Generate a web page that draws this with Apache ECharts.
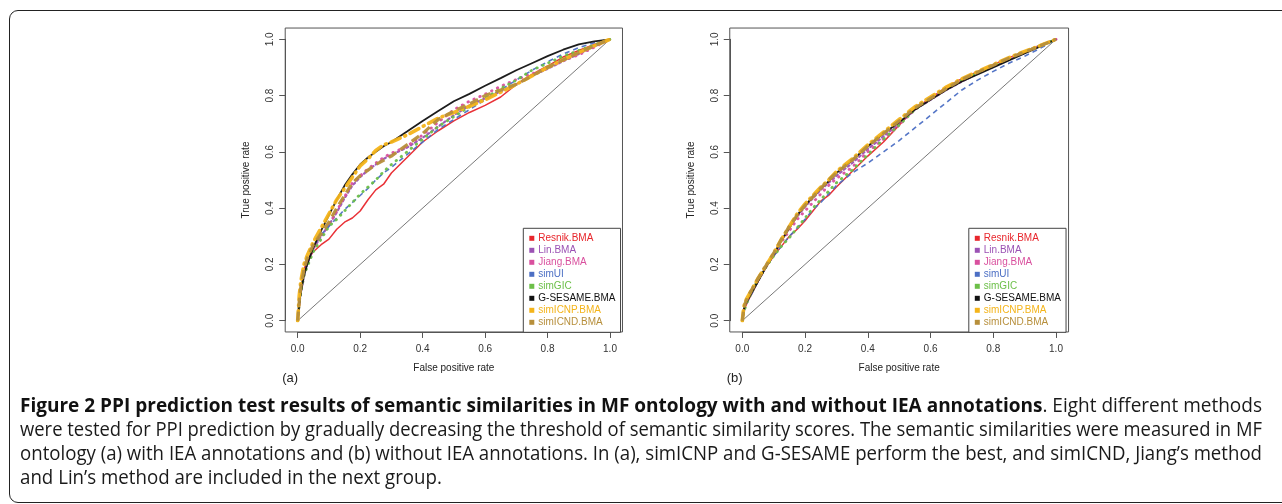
<!DOCTYPE html>
<html>
<head>
<meta charset="utf-8">
<script src="https://cdn.jsdelivr.net/npm/echarts@6/dist/echarts.min.js"></script>
<style>
  html, body { margin: 0; padding: 0; background: #fff; }
  #wrap { position: relative; width: 1282px; height: 504px; overflow: hidden; background: #fff; }
  #frame { position: absolute; left: 9px; top: 10px; width: 1300px; height: 493px; border: 1.5px solid #222; border-radius: 9px; box-sizing: border-box; }
  #chart { position: absolute; left: 0; top: 0; width: 1282px; height: 504px; }
  .cap { position: absolute; left: 20px; white-space: nowrap; font-family: 'Open Sans', 'Noto Sans', sans-serif; font-size: 20px; color: #1a1a1a; transform-origin: 0 50%; line-height: 24px; }
  .cap b { color: #111; }
</style>
</head>
<body>
<div id="wrap">
  <div id="frame"></div>
  <div id="chart"></div>
  <div class="cap" style="top:393px" data-fit="1"><b>Figure 2 PPI prediction test results of semantic similarities in MF ontology with and without IEA annotations</b>. Eight different methods</div>
  <div class="cap" style="top:417px" data-fit="1">were tested for PPI prediction by gradually decreasing the threshold of semantic similarity scores. The semantic similarities were measured in MF</div>
  <div class="cap" style="top:441px" data-fit="1">ontology (a) with IEA annotations and (b) without IEA annotations. In (a), simICNP and G-SESAME perform the best, and simICND, Jiang’s method</div>
  <div class="cap" style="top:465px" data-fit="0">and Lin’s method are included in the next group.</div>
</div>
<script>
// ---------------- data ----------------
const methodNames = ['Resnik.BMA', 'Lin.BMA', 'Jiang.BMA', 'simUI', 'simGIC', 'G-SESAME.BMA', 'simICNP.BMA', 'simICND.BMA'];
const diagonal = [0, 1];
const fpr = [0, 0.005, 0.01, 0.02, 0.03, 0.05, 0.075, 0.1, 0.125, 0.15, 0.175, 0.2, 0.225, 0.25, 0.275, 0.3, 0.35, 0.4, 0.45, 0.5, 0.55, 0.6, 0.65, 0.7, 0.75, 0.8, 0.85, 0.9, 0.95, 1.0];

// panel (a): with IEA annotations
const a_resnik  = [0, 0.05, 0.11, 0.18, 0.215, 0.245, 0.27, 0.29, 0.325, 0.35, 0.365, 0.39, 0.43, 0.465, 0.485, 0.525, 0.58, 0.635, 0.675, 0.71, 0.74, 0.765, 0.795, 0.84, 0.875, 0.905, 0.937, 0.96, 0.982, 1];
const a_lin     = [0, 0.06, 0.10, 0.16, 0.20, 0.255, 0.30, 0.34, 0.385, 0.435, 0.48, 0.51, 0.535, 0.555, 0.575, 0.59, 0.615, 0.65, 0.69, 0.73, 0.765, 0.79, 0.815, 0.84, 0.87, 0.895, 0.922, 0.948, 0.975, 1];
const a_jiang   = [0, 0.06, 0.10, 0.16, 0.20, 0.255, 0.30, 0.34, 0.39, 0.44, 0.49, 0.515, 0.54, 0.56, 0.58, 0.595, 0.62, 0.66, 0.705, 0.75, 0.78, 0.805, 0.833, 0.857, 0.877, 0.90, 0.924, 0.945, 0.972, 1];
const a_simui   = [0, 0.06, 0.10, 0.16, 0.20, 0.265, 0.305, 0.335, 0.365, 0.395, 0.42, 0.445, 0.47, 0.50, 0.525, 0.545, 0.59, 0.635, 0.68, 0.715, 0.75, 0.785, 0.82, 0.855, 0.89, 0.92, 0.948, 0.97, 0.988, 1];
const a_simgic  = [0, 0.06, 0.10, 0.16, 0.19, 0.245, 0.29, 0.335, 0.36, 0.39, 0.42, 0.45, 0.475, 0.50, 0.53, 0.555, 0.60, 0.645, 0.69, 0.725, 0.76, 0.79, 0.825, 0.855, 0.89, 0.915, 0.94, 0.96, 0.98, 1];
const a_gsesame = [0, 0.06, 0.10, 0.16, 0.20, 0.26, 0.32, 0.375, 0.43, 0.48, 0.52, 0.555, 0.58, 0.60, 0.62, 0.635, 0.672, 0.71, 0.745, 0.78, 0.806, 0.835, 0.862, 0.89, 0.915, 0.94, 0.963, 0.982, 0.993, 1];
const a_simicnp = [0, 0.09, 0.14, 0.20, 0.23, 0.28, 0.33, 0.38, 0.43, 0.47, 0.51, 0.55, 0.575, 0.605, 0.625, 0.635, 0.66, 0.69, 0.72, 0.74, 0.762, 0.785, 0.812, 0.84, 0.87, 0.90, 0.927, 0.953, 0.977, 1];
const a_simicnd = [0, 0.07, 0.12, 0.18, 0.22, 0.27, 0.31, 0.35, 0.40, 0.445, 0.49, 0.515, 0.535, 0.555, 0.57, 0.585, 0.625, 0.665, 0.715, 0.745, 0.77, 0.80, 0.82, 0.84, 0.87, 0.90, 0.927, 0.953, 0.977, 1];

// panel (b): without IEA annotations
const b_resnik  = [0, 0.03, 0.05, 0.075, 0.095, 0.14, 0.19, 0.23, 0.265, 0.30, 0.325, 0.355, 0.39, 0.425, 0.445, 0.475, 0.53, 0.585, 0.635, 0.695, 0.755, 0.79, 0.83, 0.86, 0.885, 0.91, 0.935, 0.955, 0.978, 1];
const b_lin     = [0, 0.04, 0.06, 0.08, 0.10, 0.14, 0.19, 0.235, 0.285, 0.33, 0.37, 0.405, 0.435, 0.465, 0.49, 0.515, 0.56, 0.61, 0.655, 0.70, 0.75, 0.785, 0.82, 0.85, 0.878, 0.902, 0.928, 0.952, 0.976, 1];
const b_jiang   = [0, 0.035, 0.055, 0.08, 0.10, 0.145, 0.19, 0.235, 0.28, 0.32, 0.36, 0.39, 0.42, 0.45, 0.48, 0.505, 0.545, 0.60, 0.645, 0.695, 0.75, 0.79, 0.825, 0.855, 0.88, 0.905, 0.93, 0.955, 0.978, 1];
const b_simui   = [0, 0.03, 0.05, 0.075, 0.095, 0.14, 0.19, 0.23, 0.265, 0.30, 0.33, 0.36, 0.395, 0.42, 0.45, 0.48, 0.525, 0.56, 0.60, 0.64, 0.685, 0.73, 0.775, 0.82, 0.855, 0.886, 0.915, 0.94, 0.968, 1];
const b_simgic  = [0, 0.03, 0.05, 0.08, 0.10, 0.145, 0.19, 0.23, 0.265, 0.295, 0.33, 0.365, 0.40, 0.43, 0.46, 0.49, 0.535, 0.59, 0.645, 0.695, 0.75, 0.79, 0.825, 0.855, 0.88, 0.905, 0.93, 0.955, 0.978, 1];
const b_gsesame = [0, 0.04, 0.06, 0.08, 0.10, 0.14, 0.19, 0.235, 0.285, 0.33, 0.375, 0.41, 0.44, 0.47, 0.495, 0.525, 0.57, 0.62, 0.665, 0.705, 0.75, 0.785, 0.82, 0.85, 0.875, 0.90, 0.925, 0.95, 0.975, 1];
const b_simicnp = [0, 0.05, 0.07, 0.09, 0.11, 0.15, 0.195, 0.24, 0.29, 0.335, 0.38, 0.415, 0.445, 0.475, 0.50, 0.53, 0.575, 0.625, 0.67, 0.715, 0.76, 0.795, 0.83, 0.86, 0.885, 0.91, 0.935, 0.957, 0.978, 1];
const b_simicnd = [0, 0.045, 0.065, 0.09, 0.11, 0.15, 0.195, 0.24, 0.29, 0.335, 0.375, 0.41, 0.44, 0.47, 0.50, 0.525, 0.57, 0.62, 0.665, 0.71, 0.755, 0.79, 0.825, 0.857, 0.883, 0.908, 0.933, 0.955, 0.977, 1];

const panelA = [a_resnik, a_lin, a_jiang, a_simui, a_simgic, a_gsesame, a_simicnp, a_simicnd];
const panelB = [b_resnik, b_lin, b_jiang, b_simui, b_simgic, b_gsesame, b_simicnp, b_simicnd];
const panelLabels = ['(a)', '(b)'];
const xTitle = 'False positive rate';
const yTitle = 'True positive rate';

// ---------------- styles ----------------
const colors = ['#e8262c', '#9b52b4', '#d9509e', '#4c6fc4', '#6cbf48', '#111111', '#f4b41a', '#b78f3b'];
const lineStyles = [
  { width: 1.5, type: 'solid' },
  { width: 2.2, type: [2, 3], cap: 'round' },
  { width: 2.8, type: [0.5, 6], cap: 'round' },
  { width: 1.6, type: [5, 4] },
  { width: 2.8, type: [0.5, 6], cap: 'round' },
  { width: 1.8, type: 'solid' },
  { width: 3.6, type: [10, 5, 1, 5], cap: 'round' },
  { width: 3.2, type: [9, 5] }
];
const FONT = "'Liberation Sans', Arial, sans-serif";

const grids = [
  { left: 297.7, top: 39.3, width: 312.3, height: 281.4 },
  { left: 742.3, top: 39.3, width: 313.7, height: 281.4 }
];
const legendPos = [{ left: 523.3, top: 228.3 }, { left: 968.8, top: 228.3 }];
const ext = 0.04;

const chart = echarts.init(document.getElementById('chart'), null, { renderer: 'canvas' });

const xAxes = [], yAxes = [], series = [], legends = [], graphics = [];
grids.forEach((g, p) => {
  const dx = g.width * ext, dy = g.height * ext;
  xAxes.push({
    type: 'value', gridIndex: p, min: 0, max: 1, interval: 0.2, offset: dy,
    name: xTitle, nameLocation: 'middle', nameGap: 31,
    nameTextStyle: { fontFamily: FONT, fontSize: 10, color: '#222' },
    axisLine: { show: true, onZero: false, lineStyle: { color: '#555', width: 1 } },
    axisTick: { show: true, length: 6, lineStyle: { color: '#555' } },
    axisLabel: { fontFamily: FONT, fontSize: 10, color: '#333', margin: 12, formatter: v => v.toFixed(1) },
    splitLine: { show: false }
  });
  yAxes.push({
    type: 'value', gridIndex: p, min: 0, max: 1, interval: 0.2, offset: dx,
    name: yTitle, nameLocation: 'middle', nameGap: 34,
    nameTextStyle: { fontFamily: FONT, fontSize: 10, color: '#222' },
    axisLine: { show: true, onZero: false, lineStyle: { color: '#555', width: 1 } },
    axisTick: { show: true, length: 6, lineStyle: { color: '#555' } },
    axisLabel: { fontFamily: FONT, fontSize: 10, color: '#333', margin: 10, rotate: 90, formatter: v => v.toFixed(1) },
    splitLine: { show: false }
  });
  // diagonal reference line
  series.push({
    type: 'line', name: 'diag' + p, xAxisIndex: p, yAxisIndex: p, silent: true,
    data: diagonal.map(v => [v, v]), showSymbol: false, symbol: 'none',
    lineStyle: { color: '#555', width: 0.8 }, z: 1
  });
  const tprs = p === 0 ? panelA : panelB;
  methodNames.forEach((name, i) => {
    series.push({
      type: 'line', name, xAxisIndex: p, yAxisIndex: p,
      data: fpr.map((x, k) => [x, tprs[i][k]]),
      showSymbol: false, symbol: 'none', smooth: false,
      color: colors[i], itemStyle: { color: colors[i] },
      lineStyle: Object.assign({ color: colors[i], opacity: 0.95 }, lineStyles[i]),
      z: 2 + i
    });
  });
  legends.push({
    orient: 'vertical', left: legendPos[p].left, top: legendPos[p].top,
    icon: 'rect', itemWidth: 5, itemHeight: 5, itemGap: 0,
    padding: [4, 5, 4, 6], borderColor: '#444', borderWidth: 1, backgroundColor: '#fff',
    selectedMode: false,
    itemStyle: { borderWidth: 0 },
    textStyle: { fontFamily: FONT, fontSize: 10, lineHeight: 12, padding: [0, 0, 0, -1] },
    data: methodNames.map((n, i) => ({ name: n, textStyle: { color: colors[i] } }))
  });
  graphics.push({
    type: 'rect', silent: true, z: 0,
    shape: { x: g.left - dx, y: g.top - dy, width: g.width + 2 * dx, height: g.height + 2 * dy },
    style: { fill: 'none', stroke: '#555', lineWidth: 1 }
  });
  graphics.push({
    type: 'text', silent: true, left: g.left - dx - 3, top: g.top + g.height + dy + 40,
    style: { text: panelLabels[p], font: "13px " + FONT, fill: '#222' }
  });
});

chart.setOption({
  animation: false,
  backgroundColor: 'transparent',
  grid: grids.map(g => Object.assign({ containLabel: false }, g)),
  xAxis: xAxes,
  yAxis: yAxes,
  legend: legends,
  series,
  graphic: graphics
});

// fit justified caption lines to the full text width
const capWidth = 1242;
const capEls = Array.from(document.querySelectorAll('.cap'));
const scales = [];
capEls.forEach(el => {
  if (el.dataset.fit === '1') {
    const s = capWidth / el.getBoundingClientRect().width;
    scales.push(s);
    el.style.transform = 'scaleX(' + s + ')';
  }
});
const avgScale = scales.reduce((a, b) => a + b, 0) / scales.length;
capEls.filter(e => e.dataset.fit === '0').forEach(e => { e.style.transform = 'scaleX(' + avgScale + ')'; });
</script>
</body>
</html>
